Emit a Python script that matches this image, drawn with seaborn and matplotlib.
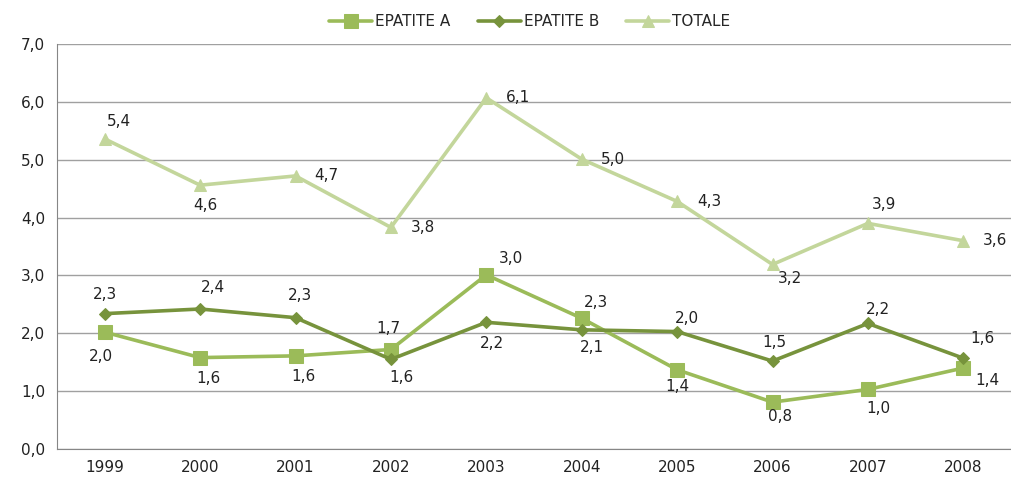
import numpy as np
import pandas as pd
import seaborn as sns
import matplotlib.pyplot as plt
from matplotlib.ticker import FixedLocator, FuncFormatter

years = [1999, 2000, 2001, 2002, 2003, 2004, 2005, 2006, 2007, 2008]
epatite_a = [2.02, 1.58, 1.61, 1.72, 3.01, 2.26, 1.37, 0.81, 1.03, 1.40]
epatite_b = [2.34, 2.42, 2.27, 1.55, 2.19, 2.06, 2.03, 1.52, 2.17, 1.57]
totale = [5.36, 4.56, 4.72, 3.83, 6.07, 5.01, 4.28, 3.19, 3.90, 3.60]

# label offsets in pixels (dx, dy) relative to each marker
off_a = [(-4, -24), (8, -21), (8, -21), (-3, 21), (25, 16), (14, 16), (0, -17), (8, -14), (10, -19), (24, -12)]
off_b = [(0, 19), (13, 22), (4, 22), (11, -18), (6, -21), (10, -18), (10, 13), (2, 19), (10, 14), (19, 20)]
off_t = [(14, 17), (5, -20), (31, 0), (32, 0), (32, 0), (31, 0), (32, 0), (17, -14), (16, 19), (32, 0)]

df = pd.DataFrame({"anno": years, "EPATITE A": epatite_a, "EPATITE B": epatite_b, "TOTALE": totale})

sns.set_style("white")
plt.rcParams["font.family"] = ["DejaVu Sans"]

fig = plt.figure(figsize=(10.11, 4.79), dpi=100)
ax = fig.add_axes([0.0564, 0.0626, 0.9436, 0.8455])

series = [
    ("EPATITE A", "#9BBB59", "s", 10, off_a),
    ("EPATITE B", "#77933C", "D", 6.5, off_b),
    ("TOTALE", "#C3D69B", "^", 9, off_t),
]
for name, col, mk, ms, offs in series:
    sns.lineplot(data=df, x="anno", y=name, ax=ax, color=col, marker=mk,
                 markersize=ms, markeredgecolor=col, linewidth=2.6, label=name)
    for x, y, (dx, dy) in zip(df["anno"], df[name], offs):
        ax.annotate(f"{y:.1f}".replace(".", ","), (x, y), xytext=(dx, dy),
                    textcoords="offset pixels", ha="center", va="center",
                    fontsize=11, color="#222222")

ax.set_xlim(1998.5, 2008.5)
ax.set_ylim(0, 7)
ax.set_yticks(np.arange(0, 7.5, 1.0))
ax.yaxis.set_major_formatter(FuncFormatter(lambda v, p: f"{v:.1f}".replace(".", ",")))
ax.xaxis.set_major_locator(FixedLocator(np.arange(1998.5, 2009, 1.0)))
ax.xaxis.set_major_formatter(FuncFormatter(lambda v, p: ""))
ax.xaxis.set_minor_locator(FixedLocator(years))
ax.xaxis.set_minor_formatter(FuncFormatter(lambda v, p: str(int(round(v)))))
ax.tick_params(axis="x", which="major", length=5, color="#868686", direction="out")
ax.tick_params(axis="x", which="minor", length=0, labelsize=11, pad=8, labelcolor="#222222")
ax.tick_params(axis="y", length=5, color="#868686", direction="out", labelsize=11, labelcolor="#222222")
ax.grid(axis="y", color="#a0a0a0", linewidth=1)
ax.set_axisbelow(True)
ax.set_xlabel("")
ax.set_ylabel("")
for s in ["top", "right"]:
    ax.spines[s].set_visible(False)
for s in ["left", "bottom"]:
    ax.spines[s].set_color("#868686")

h, l = ax.get_legend_handles_labels()
ax.legend_.remove()
fig.legend(h, l, loc="center", bbox_to_anchor=(0.524, 0.955), ncol=3, frameon=False,
           fontsize=11, handlelength=2.8, columnspacing=1.8, handletextpad=0.2)

fig.savefig("out.png", dpi=100)
